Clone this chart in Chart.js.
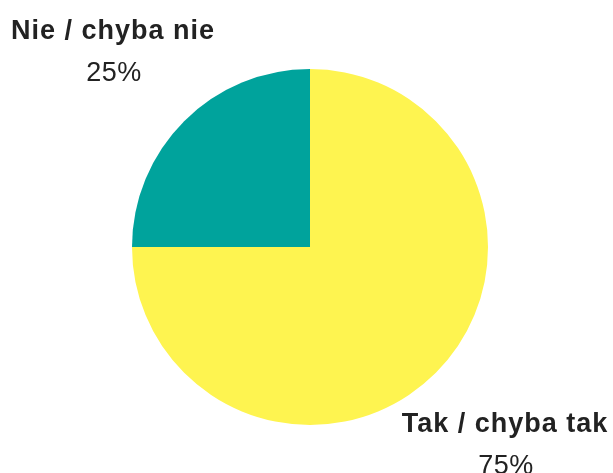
<!DOCTYPE html>
<html>
<head>
<meta charset="utf-8">
<script src="https://cdn.jsdelivr.net/npm/chart.js@4"></script>
<style>
  html, body { margin: 0; padding: 0; background: #fff; }
  #wrap { width: 613px; height: 473px; }
</style>
</head>
<body>
<div id="wrap"><canvas id="c" width="613" height="473"></canvas></div>
<script>
const labels = ['Tak / chyba tak', 'Nie / chyba nie'];
const values = [75, 25];
const colors = ['#FEF450', '#00A39C'];
// label anchor: centre x, title baseline y
const labelPos = [[505, 432], [113, 39]];

const sliceLabels = {
  id: 'sliceLabels',
  afterDraw(chart) {
    const ctx = chart.ctx;
    const total = values.reduce((a, b) => a + b, 0);
    ctx.save();
    ctx.textAlign = 'center';
    ctx.textBaseline = 'alphabetic';
    ctx.fillStyle = '#222';
    labels.forEach((l, i) => {
      const [x, y] = labelPos[i];
      ctx.font = 'bold 27px "Liberation Sans", Arial, sans-serif';
      ctx.letterSpacing = '1px';
      ctx.fillText(l, x, y);
      ctx.font = '27px "Liberation Sans", Arial, sans-serif';
      ctx.letterSpacing = '0.5px';
      ctx.fillText(Math.round(values[i] / total * 100) + '%', x + 1, y + 42);
    });
    ctx.restore();
  }
};

new Chart(document.getElementById('c'), {
  type: 'pie',
  data: {
    labels: labels,
    datasets: [{ data: values, backgroundColor: colors, borderWidth: 0 }]
  },
  options: {
    responsive: false,
    animation: false,
    layout: { padding: { left: 132, right: 125, top: 69, bottom: 48 } },
    plugins: { legend: { display: false }, tooltip: { enabled: false } }
  },
  plugins: [sliceLabels]
});
</script>
</body>
</html>
